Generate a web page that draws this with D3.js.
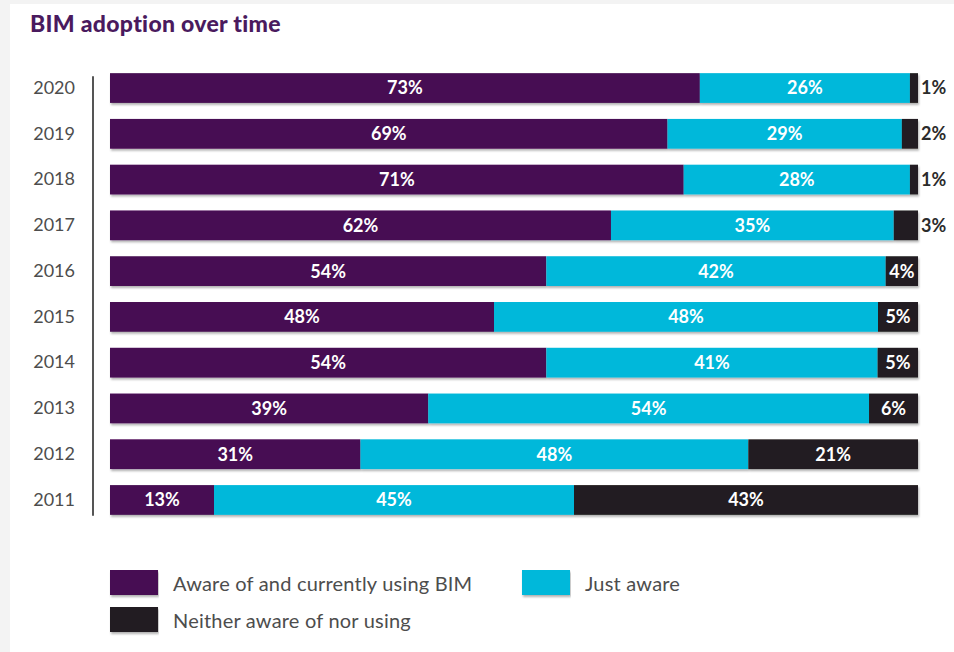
<!DOCTYPE html>
<html>
<head>
<meta charset="utf-8">
<script src="https://cdn.jsdelivr.net/npm/d3@7"></script>
<style>
  html, body { margin: 0; padding: 0; background: #f3f3f3; }
  svg { display: block; }
</style>
</head>
<body>
<svg id="chart" width="954" height="652"></svg>
<script>
// Survey years, top to bottom
const years = ["2020", "2019", "2018", "2017", "2016", "2015", "2014", "2013", "2012", "2011"];
// Share of respondents per year (%)
const usingBIM   = [73, 69, 71, 62, 54, 48, 54, 39, 31, 13];
const justAware  = [26, 29, 28, 35, 42, 48, 41, 54, 48, 45];
const neither    = [1, 2, 1, 3, 4, 5, 5, 6, 21, 43];
const seriesNames = ["Aware of and currently using BIM", "Just aware", "Neither aware of nor using"];
const seriesColors = ["#470a52", "#00b8da", "#231f20"];

const svg = d3.select("#chart");
const W = 954, H = 652;

// white card
svg.append("rect").attr("x", 10).attr("y", 4).attr("width", W - 10).attr("height", H - 4).attr("fill", "#ffffff");

const defs = svg.append("defs");
const f = defs.append("filter").attr("id", "shadow").attr("x", "-2%").attr("y", "-20%").attr("width", "104%").attr("height", "150%");
f.append("feDropShadow").attr("dx", 1).attr("dy", 2).attr("stdDeviation", 1).attr("flood-color", "#000").attr("flood-opacity", 0.3);

svg.append("text")
  .attr("x", 30).attr("y", 32)
  .attr("font-family", "Lato, sans-serif").attr("font-weight", 900)
  .attr("font-size", 23).attr("letter-spacing", 0.3).attr("fill", "#4a1a5e")
  .text("BIM adoption over time");

const left = 110, right = 918;
const rows = years.map((y, i) => {
  const vals = [usingBIM[i], justAware[i], neither[i]];
  const total = d3.sum(vals);
  let acc = 0;
  const segs = vals.map((v, k) => {
    const s = { year: y, k, value: v, x0: acc / total, x1: (acc + v) / total };
    acc += v;
    return s;
  });
  return { year: y, segs };
});

const x = d3.scaleLinear().domain([0, 1]).range([left, right]);
const y = d3.scaleBand().domain(years).range([64, 524]).paddingInner(0.35).paddingOuter(0.2);

// year axis
const yAxis = svg.append("g").attr("transform", `translate(93,0)`)
  .call(d3.axisLeft(y).tickSize(0).tickPadding(18));
yAxis.select(".domain").attr("stroke", "#555").attr("stroke-width", 2)
  .attr("d", `M0,${y(years[0]) + 3}V${y(years[years.length - 1]) + y.bandwidth() + 1}`);
yAxis.selectAll(".tick text")
  .attr("font-family", "Lato, sans-serif").attr("font-size", 18).attr("fill", "#4d4d4d");

const g = svg.append("g");
const rowG = g.selectAll("g.row").data(rows).join("g").attr("class", "row")
  .attr("transform", d => `translate(0,${y(d.year)})`);

rowG.append("g").attr("filter", "url(#shadow)")
  .selectAll("rect").data(d => d.segs).join("rect")
  .attr("x", d => x(d.x0))
  .attr("width", d => x(d.x1) - x(d.x0))
  .attr("y", 0).attr("height", y.bandwidth())
  .attr("fill", d => seriesColors[d.k]);

rowG.selectAll("text.val").data(d => d.segs).join("text").attr("class", "val")
  .each(function (d) {
    const w = x(d.x1) - x(d.x0);
    const t = d3.select(this);
    if (w < 30) {
      t.attr("x", right + 3).attr("text-anchor", "start").attr("fill", "#2b2b2b");
    } else {
      t.attr("x", (x(d.x0) + x(d.x1)) / 2).attr("text-anchor", "middle").attr("fill", "#ffffff");
    }
  })
  .attr("y", y.bandwidth() / 2).attr("dy", "0.36em")
  .attr("font-family", "Lato, sans-serif").attr("font-weight", 700).attr("font-size", 18)
  .text(d => d.value + "%");

// legend
const legendPos = [[110, 570], [522, 570], [110, 607]];
const lg = svg.append("g").selectAll("g").data(seriesNames).join("g")
  .attr("transform", (d, i) => `translate(${legendPos[i][0]},${legendPos[i][1]})`);
lg.append("rect").attr("width", 48).attr("height", 25).attr("fill", (d, i) => seriesColors[i])
  .attr("filter", "url(#shadow)");
lg.append("text").attr("x", 63).attr("y", 14).attr("dy", "0.36em")
  .attr("font-family", "Lato, sans-serif").attr("font-size", 20).attr("letter-spacing", 0.2).attr("fill", "#4d4d4d")
  .text(d => d);
</script>
</body>
</html>
